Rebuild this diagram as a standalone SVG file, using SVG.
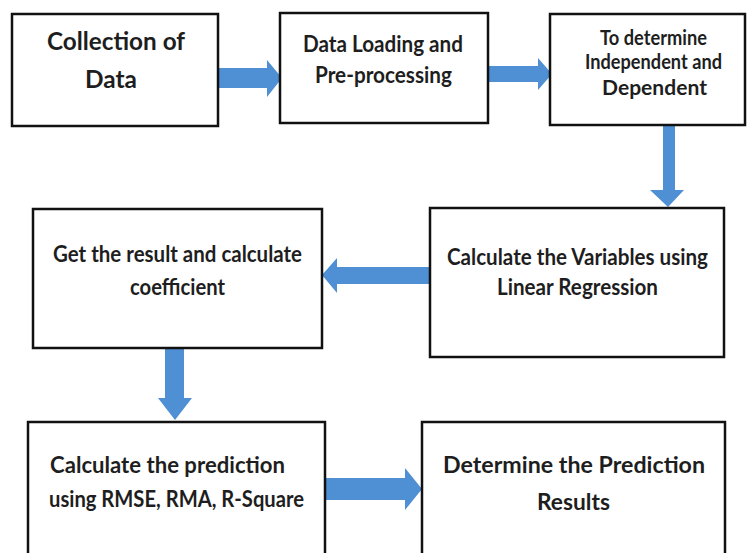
<svg xmlns="http://www.w3.org/2000/svg" width="747" height="553" viewBox="0 0 747 553">
<style>
.box{fill:#fff;stroke:#111;stroke-width:2.5}
.t{font-family:Lato,"Liberation Sans",sans-serif;font-weight:700;fill:#1e1e1e;text-anchor:middle}
.arr{fill:#4f8fd3}
</style>
<rect width="747" height="553" fill="#fff"/>
<g id="connectors">
<polygon class="arr" points="218,68 267,68 267,60 282,78 267,97 267,88 218,88"/>
<polygon class="arr" points="488,66 538,66 538,58 552,74 538,90 538,82 488,82"/>
<polygon class="arr" points="663,125 675,125 675,190 684,190 668,207 650,190 663,190"/>
<polygon class="arr" points="430,267 337,267 337,258 322,275 337,293 337,284 430,284"/>
<polygon class="arr" points="165,348 184,348 184,398 192,398 175,420 158,398 165,398"/>
<polygon class="arr" points="325,478 405,478 405,468 422,489 405,510 405,500 325,500"/>
</g>
<g id="n1">
<rect class="box" x="12" y="14" width="206" height="112"/>
<text class="t" x="116" y="50" font-size="24" textLength="138" lengthAdjust="spacingAndGlyphs">Collection of</text>
<text class="t" x="111" y="88" font-size="24" textLength="52" lengthAdjust="spacingAndGlyphs">Data</text>
</g>
<g id="n2">
<rect class="box" x="280" y="13" width="208" height="110"/>
<text class="t" x="383" y="52" font-size="22" textLength="160" lengthAdjust="spacingAndGlyphs">Data Loading and</text>
<text class="t" x="383.5" y="83" font-size="22" textLength="137" lengthAdjust="spacingAndGlyphs">Pre-processing</text>
</g>
<g id="n3">
<rect class="box" x="550" y="14" width="195" height="111"/>
<text class="t" x="653.5" y="45" font-size="20" textLength="107" lengthAdjust="spacingAndGlyphs">To determine</text>
<text class="t" x="653.5" y="69" font-size="20" textLength="137" lengthAdjust="spacingAndGlyphs">Independent and</text>
<text class="t" x="654.5" y="95" font-size="20" textLength="105" lengthAdjust="spacingAndGlyphs">Dependent</text>
</g>
<g id="n4">
<rect class="box" x="430" y="208" width="294" height="149"/>
<text class="t" x="577.5" y="265" font-size="23" textLength="261" lengthAdjust="spacingAndGlyphs">Calculate the Variables using</text>
<text class="t" x="577.5" y="295" font-size="23" textLength="161" lengthAdjust="spacingAndGlyphs">Linear Regression</text>
</g>
<g id="n5">
<rect class="box" x="33" y="209" width="289" height="139"/>
<text class="t" x="177.5" y="262" font-size="23" textLength="249" lengthAdjust="spacingAndGlyphs">Get the result and calculate</text>
<text class="t" x="177.5" y="295" font-size="23" textLength="95" lengthAdjust="spacingAndGlyphs">coefficient</text>
</g>
<g id="n6">
<rect class="box" x="28" y="422" width="297" height="145"/>
<text class="t" x="167.5" y="473" font-size="22" textLength="235" lengthAdjust="spacingAndGlyphs">Calculate the prediction</text>
<text class="t" x="176.5" y="507" font-size="22" textLength="255" lengthAdjust="spacingAndGlyphs">using RMSE, RMA, R-Square</text>
</g>
<g id="n7">
<rect class="box" x="422" y="422" width="303" height="145"/>
<text class="t" x="574" y="473" font-size="23" textLength="262" lengthAdjust="spacingAndGlyphs">Determine the Prediction</text>
<text class="t" x="573.5" y="510" font-size="23" textLength="73" lengthAdjust="spacingAndGlyphs">Results</text>
</g>
</svg>
